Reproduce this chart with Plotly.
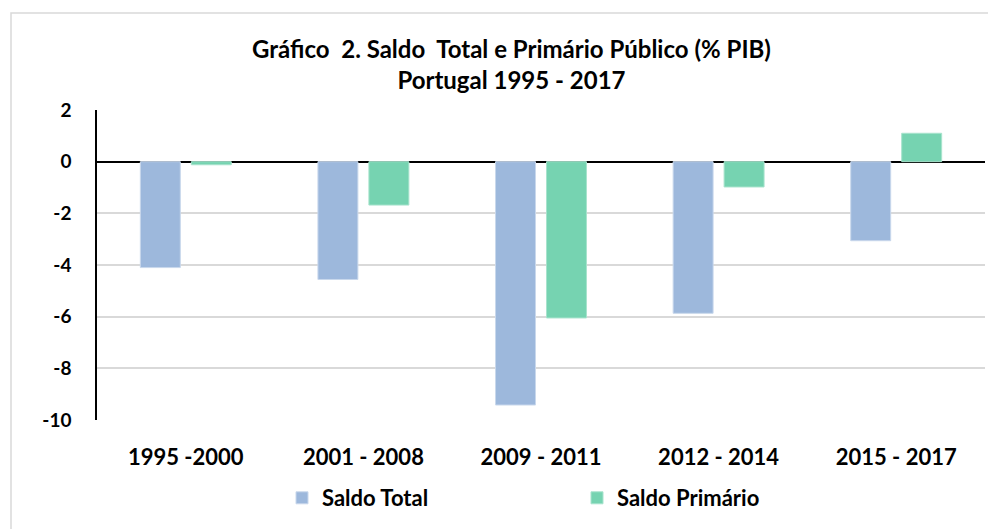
import plotly.graph_objects as go

categories = ["1995 -2000", "2001 - 2008", "2009 - 2011", "2012 - 2014", "2015 - 2017"]
saldo_total = [-4.1, -4.56, -9.42, -5.87, -3.06]
saldo_primario = [-0.12, -1.68, -6.05, -0.98, 1.1]
series_names = ["Saldo Total", "Saldo Primário"]
y_ticks = [2, 0, -2, -4, -6, -8, -10]

FONT = "Lato"
OFF = 8  # page body margin
W, H = 988, 521
# plot area in screen pixels
PX0, PX1, PY0, PY1 = 97, 985, 110, 420
ML = PX0 - OFF
MR = W - (PX1 - OFF)
MT = PY0 - OFF
MB = H - (PY1 - OFF)
PW, PH = PX1 - PX0, PY1 - PY0


def px_x(p):
    return (p - PX0) / PW


def px_y(p):
    return (PY1 - p) / PH


fig = go.Figure()
fig.add_trace(go.Bar(x=categories, y=saldo_total, name=series_names[0],
                     marker=dict(color="#9DB8DC", line=dict(color="#C9D8EC", width=1))))
fig.add_trace(go.Bar(x=categories, y=saldo_primario, name=series_names[1],
                     marker=dict(color="#76D3B1", line=dict(color="#A8E3CD", width=1))))

fig.update_layout(
    width=W, height=H,
    margin=dict(l=ML, r=MR, t=MT, b=MB, autoexpand=False),
    paper_bgcolor="white", plot_bgcolor="white",
    barmode="group", bargap=0.426, bargroupgap=0.216,
    font=dict(family=FONT, color="#000000"),
    showlegend=True,
    legend=dict(orientation="h", x=px_x(282), y=px_y(477), xanchor="left", yanchor="top",
                entrywidth=250, entrywidthmode="pixels",
                font=dict(family=FONT, size=22, color="#000000", weight="bold"),
                itemwidth=30, bgcolor="rgba(0,0,0,0)"),
    xaxis=dict(showline=False, ticks="", tickfont=dict(family=FONT, size=22, weight="bold"),
               ticklabelstandoff=22),
    yaxis=dict(range=[-10, 2], tickvals=y_ticks, ticktext=[str(v) for v in y_ticks],
               showgrid=True, gridcolor="#D9D9D9", gridwidth=1.5,
               zeroline=True, zerolinecolor="#000000", zerolinewidth=1.5,
               showline=True, linecolor="#000000", linewidth=1.5,
               ticks="", tickfont=dict(family=FONT, size=19, weight="bold"),
               ticklabelstandoff=20),
)

fig.add_annotation(text="Gráfico  2. Saldo  Total e Primário Público (% PIB)<br>Portugal 1995 - 2017",
                   xref="paper", yref="paper", x=px_x(511), y=px_y(64),
                   xanchor="center", yanchor="middle", showarrow=False,
                   font=dict(family=FONT, size=24, weight="bold", color="#000000"),
                   align="center")

fig.add_shape(type="rect", xref="paper", yref="paper",
              x0=px_x(11), x1=px_x(995), y0=px_y(560), y1=px_y(13),
              line=dict(color="#D9D9D9", width=1.5), layer="below")

fig.write_html("out.html")
